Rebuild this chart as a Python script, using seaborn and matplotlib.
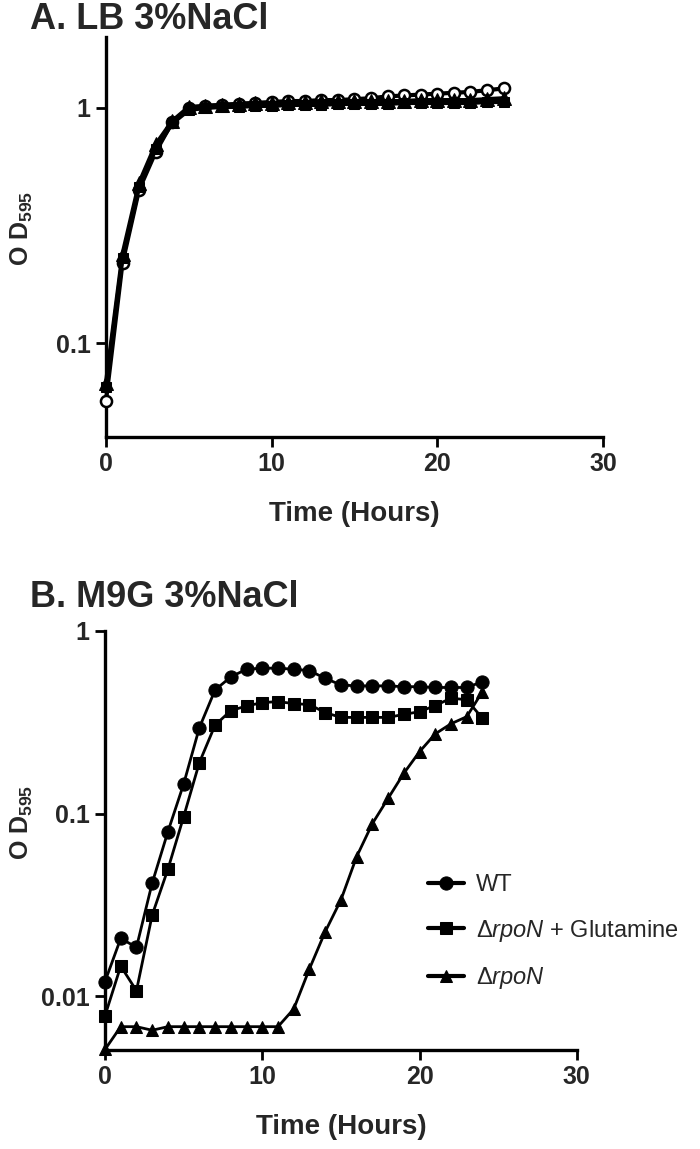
import numpy as np
import pandas as pd
import matplotlib
matplotlib.use("Agg")
import matplotlib.pyplot as plt
import seaborn as sns
from matplotlib.ticker import FixedLocator, NullLocator, FuncFormatter

# ---------------- data ----------------
hours = list(range(25))

# Panel A: LB 3% NaCl
a_wt = [0.057, 0.22, 0.45, 0.65, 0.87, 1.00, 1.02, 1.03, 1.04, 1.05, 1.06, 1.07, 1.07,
        1.08, 1.08, 1.09, 1.10, 1.12, 1.13, 1.14, 1.15, 1.16, 1.17, 1.19, 1.21]
a_gln = [0.065, 0.23, 0.46, 0.67, 0.86, 0.98, 1.00, 1.01, 1.01, 1.02, 1.02, 1.03, 1.03,
         1.03, 1.04, 1.04, 1.04, 1.04, 1.05, 1.05, 1.05, 1.05, 1.05, 1.06, 1.06]
a_rpon = [0.068, 0.24, 0.48, 0.70, 0.88, 1.01, 1.02, 1.03, 1.04, 1.05, 1.05, 1.06, 1.06,
          1.07, 1.07, 1.07, 1.07, 1.07, 1.07, 1.08, 1.08, 1.08, 1.08, 1.09, 1.10]

# Panel B: M9G 3% NaCl
b_wt = [0.012, 0.0207, 0.0185, 0.0416, 0.0795, 0.145, 0.295, 0.475, 0.56, 0.617, 0.625,
        0.625, 0.617, 0.606, 0.55, 0.506, 0.50, 0.50, 0.50, 0.495, 0.495, 0.49, 0.49, 0.49, 0.527]
b_gln = [0.0078, 0.0146, 0.0107, 0.0278, 0.0495, 0.096, 0.19, 0.305, 0.366, 0.388, 0.405,
         0.41, 0.40, 0.395, 0.357, 0.336, 0.336, 0.336, 0.336, 0.349, 0.361, 0.39, 0.428, 0.42, 0.332]
b_rpon = [0.0051, 0.0068, 0.0068, 0.0065, 0.0068, 0.0068, 0.0068, 0.0068, 0.0068, 0.0068,
          0.0068, 0.0068, 0.0085, 0.0141, 0.0225, 0.0336, 0.058, 0.088, 0.121, 0.166, 0.218,
          0.273, 0.31, 0.339, 0.465]

labels = ["WT", r"$\mathit{ΔrpoN}$ + Glutamine", r"$\mathit{ΔrpoN}$"]
title_a = "A. LB 3%NaCl"
title_b = "B. M9G 3%NaCl"
x_ticks = [0, 10, 20, 30]
xlabel = "Time (Hours)"
ylabel = r"O D$_{\mathbf{595}}$"

# ---------------- style ----------------
sns.set_style("ticks")
FAM = ["Liberation Sans", "DejaVu Sans"]
plt.rcParams["font.family"] = FAM
plt.rcParams["mathtext.fontset"] = "custom"
plt.rcParams["mathtext.rm"] = "Liberation Sans"
plt.rcParams["mathtext.it"] = "Liberation Sans:italic"
plt.rcParams["mathtext.bf"] = "Liberation Sans:bold"

fig = plt.figure(figsize=(7.0, 11.49), dpi=100)
axA = fig.add_axes([0.1514, 0.6197, 0.710, 0.348])
axB = fig.add_axes([0.1500, 0.0862, 0.674, 0.3647])


def style_axis(ax, ylim, yticks):
    ax.set_yscale("log")
    ax.set_xlim(0, 30)
    ax.set_ylim(*ylim)
    ax.xaxis.set_major_locator(FixedLocator(x_ticks))
    ax.yaxis.set_major_locator(FixedLocator(yticks))
    ax.yaxis.set_minor_locator(NullLocator())
    ax.yaxis.set_major_formatter(FuncFormatter(lambda v, _: f"{v:g}"))
    for s in ["top", "right"]:
        ax.spines[s].set_visible(False)
    for s in ["left", "bottom"]:
        ax.spines[s].set_linewidth(2.4)
        ax.spines[s].set_color("black")
    ax.tick_params(axis="both", which="major", length=7, width=2.0, color="black",
                   labelsize=18, pad=4, direction="out")
    for lab in ax.get_xticklabels() + ax.get_yticklabels():
        lab.set_fontweight("bold")
    ax.set_xlabel(xlabel, fontsize=20, fontweight="bold", labelpad=18)
    ax.set_ylabel("")


# Panel A
dfA = pd.DataFrame({"t": hours, "wt": a_wt, "gln": a_gln, "rpon": a_rpon})
sns.lineplot(data=dfA, x="t", y="wt", ax=axA, color="black", lw=3.0, marker="o",
             markersize=8, markerfacecolor="white", markeredgecolor="black",
             markeredgewidth=1.8, zorder=3, clip_on=False)
sns.lineplot(data=dfA, x="t", y="gln", ax=axA, color="black", lw=3.0, marker="s",
             markersize=6.5, markerfacecolor="black", markeredgecolor="black", zorder=4,
             clip_on=False)
sns.lineplot(data=dfA, x="t", y="rpon", ax=axA, color="black", lw=3.0, marker="^",
             markersize=10, markerfacecolor="black", markeredgecolor="black", zorder=5,
             clip_on=False)
style_axis(axA, (0.040, 2.0), [0.1, 1])

# Panel B
dfB = pd.DataFrame({"t": hours, "wt": b_wt, "gln": b_gln, "rpon": b_rpon})
sns.lineplot(data=dfB, x="t", y="wt", ax=axB, color="black", lw=2.0, marker="o",
             markersize=9.5, markeredgecolor="black", label=labels[0], zorder=3, clip_on=False)
sns.lineplot(data=dfB, x="t", y="gln", ax=axB, color="black", lw=2.0, marker="s",
             markersize=9, markeredgecolor="black", label=labels[1], zorder=4, clip_on=False)
sns.lineplot(data=dfB, x="t", y="rpon", ax=axB, color="black", lw=2.0, marker="^",
             markersize=9, markeredgecolor="black", label=labels[2], zorder=5, clip_on=False)
style_axis(axB, (0.00507, 1.0), [0.01, 0.1, 1])

leg = axB.legend(loc="center left", bbox_to_anchor=(0.684, 0.280), frameon=False,
                 handlelength=1.55, handletextpad=0.5, labelspacing=0.9,
                 borderaxespad=0, borderpad=0, prop={"family": FAM, "size": 17})
for h in leg.legend_handles:
    h.set_linewidth(3.0)

# titles and y labels
fig.text(30 / 700, 1 - 2 / 1149, title_a, fontsize=26, fontweight="bold", va="top",
         ha="left", family=FAM)
fig.text(30 / 700, 1 - 580 / 1149, title_b, fontsize=26, fontweight="bold", va="top",
         ha="left", family=FAM)
fig.text(22 / 700, 1 - 228 / 1149, ylabel, fontsize=18, fontweight="bold", rotation=90,
         va="center", ha="center", family=FAM)
fig.text(22 / 700, 1 - 822 / 1149, ylabel, fontsize=18, fontweight="bold", rotation=90,
         va="center", ha="center", family=FAM)

fig.savefig("out.png", dpi=100)
